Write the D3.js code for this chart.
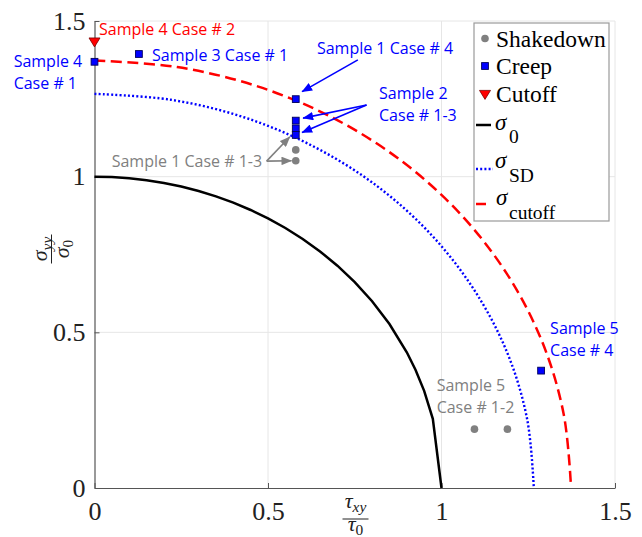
<!DOCTYPE html>
<html>
<head>
<meta charset="utf-8">
<script src="https://cdn.jsdelivr.net/npm/d3@7"></script>
<style>
  html, body { margin: 0; padding: 0; background: #fff; }
  svg { display: block; }
</style>
</head>
<body>
<svg id="chart" width="642" height="537"></svg>
<script>
// Normalised load map: shear tau_xy/tau_0 (x) against normal sigma_yy/sigma_0 (y)
const tickValues = [0, 0.5, 1, 1.5];
const tickLabels = ["0", "0.5", "1", "1.5"];

// Limit curves
const sigma0X = [0, 0.05, 0.1, 0.15, 0.2, 0.25, 0.3, 0.35, 0.4, 0.45, 0.5, 0.55, 0.6, 0.65, 0.7, 0.75, 0.8, 0.85, 0.9, 0.925, 0.95, 0.975, 1.0];
const sigma0Y = [1.0, 0.9987, 0.995, 0.9887, 0.9798, 0.9682, 0.9539, 0.9367, 0.9165, 0.893, 0.866, 0.8352, 0.8, 0.7599, 0.7141, 0.6614, 0.6, 0.5268, 0.4359, 0.38, 0.3122, 0.2222, 0];

const sigmaSDX = [0, 0.220, 0.433, 0.633, 0.814, 0.970, 1.096, 1.190, 1.247, 1.266];
const sigmaSDY = [1.266, 1.247, 1.190, 1.096, 0.970, 0.814, 0.633, 0.433, 0.220, 0];

const sigmaCutX = [0, 0.238, 0.470, 0.687, 0.883, 1.052, 1.189, 1.290, 1.352, 1.373];
const sigmaCutY = [1.373, 1.352, 1.290, 1.189, 1.052, 0.883, 0.687, 0.470, 0.238, 0.008];

// Test cases
const shakedownX = [0.58, 0.58, 1.095, 1.19];
const shakedownY = [1.086, 1.051, 0.189, 0.189];
const creepX = [0, 0.128, 0.58, 0.58, 0.58, 0.58, 1.287];
const creepY = [1.369, 1.394, 1.249, 1.180, 1.155, 1.134, 0.377];
const cutoffX = [0];
const cutoffY = [1.434];

// Case labels (anchor = start of first line, in data units)
const noteLines = [
  ["Sample 4 Case # 2"],
  ["Sample 3 Case # 1"],
  ["Sample 4", "Case # 1"],
  ["Sample 1 Case # 1-3"],
  ["Sample 1 Case # 4"],
  ["Sample 2", "Case # 1-3"],
  ["Sample 5", "Case # 4"],
  ["Sample 5", "Case # 1-2"]
];
const noteKind = ["cutoff", "creep", "creep", "shakedown", "creep", "creep", "creep", "shakedown"];
const noteX = [0.013, 0.166, -0.233, 0.0496, 0.641, 0.820, 1.313, 0.986];
const noteY = [1.455, 1.372, 1.352, 1.031, 1.394, 1.248, 0.495, 0.312];

// Pointers from labels to cases
const arrowKind = ["shakedown", "shakedown", "creep", "creep", "creep"];
const arrowX0 = [0.496, 0.496, 0.759, 0.784, 0.784];
const arrowY0 = [1.050, 1.050, 1.375, 1.230, 1.230];
const arrowX1 = [0.563, 0.568, 0.598, 0.601, 0.598];
const arrowY1 = [1.128, 1.051, 1.273, 1.188, 1.142];

const kindColor = { shakedown: "#808080", creep: "#0000ff", cutoff: "#ff0000" };

const svg = d3.select("#chart");
const x = d3.scaleLinear().domain([0, 1.5]).range([94.5, 615]);
const y = d3.scaleLinear().domain([0, 1.5]).range([488, 21]);

// arrow heads
const defs = svg.append("defs");
["shakedown", "creep"].forEach(k => {
  defs.append("marker")
    .attr("id", "head-" + k)
    .attr("viewBox", "0 0 10 8")
    .attr("refX", 9.5).attr("refY", 4)
    .attr("markerWidth", 11).attr("markerHeight", 8.5)
    .attr("markerUnits", "userSpaceOnUse")
    .attr("orient", "auto")
    .append("path").attr("d", "M0,0 L10,4 L0,8 Z").attr("fill", kindColor[k]);
});

// grid
const grid = svg.append("g").attr("stroke", "#e6e6e6").attr("stroke-width", 1);
tickValues.slice(1).forEach(v => {
  grid.append("line").attr("x1", x(v)).attr("x2", x(v)).attr("y1", y(0)).attr("y2", y(1.5));
  grid.append("line").attr("x1", x(0)).attr("x2", x(1.5)).attr("y1", y(v)).attr("y2", y(v));
});

// axes
const fmt = (d, i) => tickLabels[i];
const xAxis = svg.append("g").attr("transform", `translate(0,${y(0)})`)
  .call(d3.axisBottom(x).tickValues(tickValues).tickFormat(fmt).tickSizeInner(-5).tickSizeOuter(0).tickPadding(14));
const yAxis = svg.append("g").attr("transform", `translate(${x(0)},0)`)
  .call(d3.axisLeft(y).tickValues(tickValues).tickFormat(fmt).tickSizeInner(-5).tickSizeOuter(0).tickPadding(9));
[xAxis, yAxis].forEach(a => {
  a.select(".domain").attr("stroke", "#555").attr("stroke-width", 1.2);
  a.selectAll(".tick line").attr("stroke", "#555");
  a.selectAll(".tick text").attr("fill", "#222")
    .style("font-family", "'Liberation Serif', 'Times New Roman', serif").style("font-size", "26px");
});

// limit curves
const line = d3.line().x(d => x(d[0])).y(d => y(d[1]));
const smooth = d3.line().x(d => x(d[0])).y(d => y(d[1])).curve(d3.curveCatmullRom);
svg.append("path").datum(d3.zip(sigma0X, sigma0Y)).attr("d", line)
  .attr("fill", "none").attr("stroke", "#000").attr("stroke-width", 2.5);
svg.append("path").datum(d3.zip(sigmaSDX, sigmaSDY)).attr("d", smooth)
  .attr("fill", "none").attr("stroke", "#0000ff").attr("stroke-width", 2.4)
  .attr("stroke-dasharray", "2,2.2");
svg.append("path").datum(d3.zip(sigmaCutX, sigmaCutY)).attr("d", smooth)
  .attr("fill", "none").attr("stroke", "#ff0000").attr("stroke-width", 2.5)
  .attr("stroke-dasharray", "11,5.5");

// pointers
svg.append("g").selectAll("line").data(d3.range(arrowX0.length)).join("line")
  .attr("x1", i => x(arrowX0[i])).attr("y1", i => y(arrowY0[i]))
  .attr("x2", i => x(arrowX1[i])).attr("y2", i => y(arrowY1[i]))
  .attr("stroke", i => kindColor[arrowKind[i]]).attr("stroke-width", 1.6)
  .attr("marker-end", i => `url(#head-${arrowKind[i]})`);

// test cases
svg.append("g").selectAll("circle").data(d3.zip(shakedownX, shakedownY)).join("circle")
  .attr("cx", d => x(d[0])).attr("cy", d => y(d[1])).attr("r", 3.8)
  .attr("fill", kindColor.shakedown);
svg.append("g").selectAll("rect").data(d3.zip(creepX, creepY)).join("rect")
  .attr("x", d => x(d[0]) - 3.4).attr("y", d => y(d[1]) - 3.4)
  .attr("width", 6.8).attr("height", 6.8)
  .attr("fill", kindColor.creep).attr("stroke", "#00005a").attr("stroke-width", 0.9);
const triPath = "M-5.5,-3.6 L5.5,-3.6 L0,5.4 Z";
svg.append("g").selectAll("path").data(d3.zip(cutoffX, cutoffY)).join("path")
  .attr("transform", d => `translate(${x(d[0])},${y(d[1])})`)
  .attr("d", triPath).attr("fill", kindColor.cutoff).attr("stroke", "#7a0000").attr("stroke-width", 0.8);

// case labels
const notes = svg.append("g").style("font-family", "'Open Sans', 'Noto Sans', sans-serif").style("font-size", "16px");
noteLines.forEach((lines, i) => {
  const t = notes.append("text").attr("x", x(noteX[i])).attr("y", y(noteY[i]))
    .attr("fill", kindColor[noteKind[i]]);
  lines.forEach((s, j) => {
    t.append("tspan").attr("x", x(noteX[i])).attr("dy", j === 0 ? 0 : 22).text(s);
  });
});

// axis titles as stacked fractions
const serif = "'Liberation Serif', 'Times New Roman', serif";
function fraction(g, sym, numSub, denSub, len, fs, numBase, denBase) {
  g.append("line").attr("x1", -len / 2).attr("x2", len / 2).attr("y1", 0).attr("y2", 0)
    .attr("stroke", "#222").attr("stroke-width", 1);
  const num = g.append("text").attr("text-anchor", "middle").attr("y", numBase)
    .style("font-family", serif).style("font-size", fs + "px").attr("fill", "#222");
  num.append("tspan").style("font-style", "italic").text(sym);
  num.append("tspan").style("font-style", "italic").style("font-size", (fs * 0.7) + "px").attr("dy", 4.5).text(numSub);
  const den = g.append("text").attr("text-anchor", "middle").attr("y", denBase)
    .style("font-family", serif).style("font-size", fs + "px").attr("fill", "#222");
  den.append("tspan").style("font-style", "italic").text(sym);
  den.append("tspan").style("font-size", (fs * 0.7) + "px").attr("dy", 4).text(denSub);
}
fraction(svg.append("g").attr("transform", "translate(355.5,519)"), "τ", "xy", "0", 26, 22, -11.5, 11.5);
fraction(svg.append("g").attr("transform", "translate(51.5,249) rotate(-90)"), "σ", "yy", "0", 29, 22, -4.5, 17);

// legend
const lg = svg.append("g");
lg.append("rect").attr("x", 474).attr("y", 23).attr("width", 135).attr("height", 198)
  .attr("fill", "#fff").attr("stroke", "#9a9a9a").attr("stroke-width", 1.2);
const lgText = (xx, yy, s, fs, italic) => lg.append("text").attr("x", xx).attr("y", yy)
  .style("font-family", serif).style("font-size", fs + "px").style("font-style", italic ? "italic" : "normal")
  .attr("fill", "#000").text(s);
lg.append("circle").attr("cx", 485).attr("cy", 38.5).attr("r", 3.8).attr("fill", kindColor.shakedown);
lgText(496, 47, "Shakedown", 23.5, false);
lg.append("rect").attr("x", 481.6).attr("y", 62.6).attr("width", 6.8).attr("height", 6.8)
  .attr("fill", kindColor.creep).attr("stroke", "#00005a").attr("stroke-width", 0.9);
lgText(496, 74, "Creep", 23.5, false);
lg.append("path").attr("transform", "translate(485,94)").attr("d", triPath)
  .attr("fill", kindColor.cutoff).attr("stroke", "#7a0000").attr("stroke-width", 0.8);
lgText(496, 102, "Cutoff", 23.5, false);

lg.append("line").attr("x1", 476).attr("x2", 491).attr("y1", 125).attr("y2", 125)
  .attr("stroke", "#000").attr("stroke-width", 2.5);
lgText(495, 130, "σ", 23, true);
lgText(509, 143, "0", 19.5, false);
lg.append("line").attr("x1", 476).attr("x2", 493).attr("y1", 169).attr("y2", 169)
  .attr("stroke", "#0000ff").attr("stroke-width", 2.4).attr("stroke-dasharray", "2,2.2");
lgText(495, 168, "σ", 23, true);
lgText(509, 182, "SD", 19.5, false);
lg.append("line").attr("x1", 476).attr("x2", 486).attr("y1", 204).attr("y2", 204)
  .attr("stroke", "#ff0000").attr("stroke-width", 2.5);
lgText(496, 205, "σ", 23, true);
lgText(509, 219, "cutoff", 19.5, false);
</script>
</body>
</html>
